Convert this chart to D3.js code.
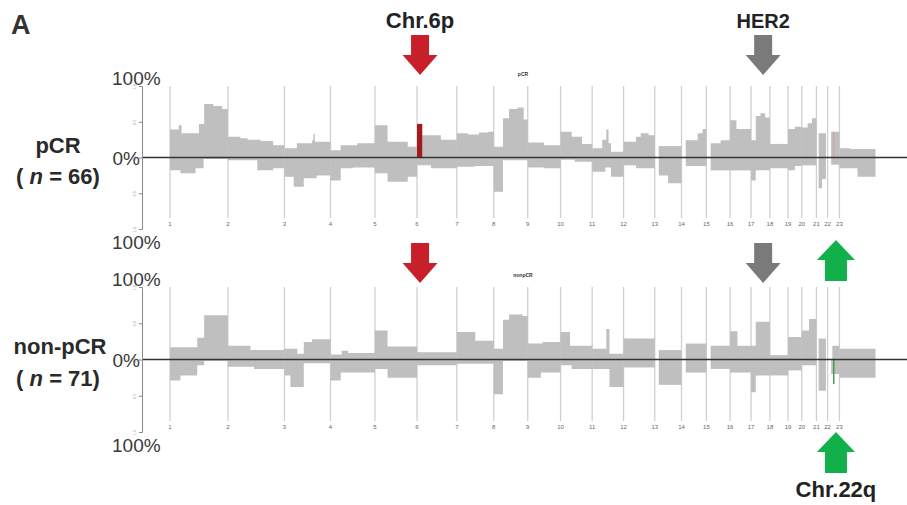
<!DOCTYPE html>
<html lang="en">
<head>
<meta charset="UTF-8">
<title></title>
<style>
  body { margin: 0; background: #fff; }
  text { font-family: Arial, "Liberation Sans", sans-serif; }
</style>
</head>
<body>
<script src="https://cdn.jsdelivr.net/npm/d3@7/dist/d3.min.js"></script>
<script>
// chromosome labels and lengths (Mb)
var chromosomes = ["1","2","3","4","5","6","7","8","9","10","11","12","13","14","15","16","17","18","19","20","21","22","23"];
var chromLengths = [249,243,198,191,181,171,159,146,141,136,135,134,115,107,102,90,81,78,59,63,48,51,155];

// per chromosome: [fraction along chromosome, % of samples]
var pcrGain = [
  [[0,39],[0.15,45],[0.2,34],[0.5,47],[0.59,75],[0.75,72],[0.9,68]],
  [[0,29],[0.22,27],[0.35,25],[0.58,23],[0.8,17]],
  [[0,13],[0.27,20],[0.6,24],[0.63,33],[0.66,22]],
  [[0,10],[0.23,17],[0.6,20]],
  [[0,45],[0.3,22],[0.78,15]],
  [[0,47],[0.13,31],[0.6,25]],
  [[0,34],[0.3,32],[0.6,35],[0.85,36]],
  [[0,15],[0.27,55],[0.45,68],[0.7,70],[0.88,53]],
  [[0,21],[0.5,17]],
  [[0,36],[0.35,29],[0.68,19]],
  [[0,13],[0.32,25],[0.45,39],[0.52,20],[0.6,8]],
  [[0,22],[0.4,29],[0.55,34],[0.8,31]],
  [[0.15,16]],
  [[0.17,24],[0.65,34],[0.85,40]],
  [[0.18,20],[0.6,24]],
  [[0,52],[0.3,40]],
  [[0,24],[0.25,58],[0.5,62],[0.75,56]],
  [[0,19]],
  [[0,40],[0.5,43]],
  [[0,42],[0.4,48],[0.7,55]],
  [[0.2,34],[0.85,0]],
  [[0.3,36]],
  [[0,13],[0.3,12]]
];
var pcrLoss = [
  [[0,18],[0.18,22],[0.44,15],[0.58,2]],
  [[0,4],[0.52,18],[0.8,15]],
  [[0,27],[0.2,41],[0.42,29],[0.7,25]],
  [[0,32],[0.23,15],[0.5,14]],
  [[0,22],[0.3,34],[0.78,27]],
  [[0,11],[0.35,15]],
  [[0,13],[0.5,12]],
  [[0,48],[0.27,4]],
  [[0,14],[0.5,15]],
  [[0,3],[0.45,6]],
  [[0,20],[0.42,14],[0.6,27]],
  [[0,11],[0.4,15]],
  [[0.15,25],[0.5,36]],
  [[0.17,12]],
  [[0.18,18]],
  [[0,18]],
  [[0,32],[0.25,18]],
  [[0,15]],
  [[0,18],[0.5,12]],
  [[0,11]],
  [[0.2,43],[0.5,30],[0.85,0]],
  [[0.3,10]],
  [[0,15],[0.5,27]]
];
var nonpcrGain = [
  [[0,17],[0.47,30],[0.59,61]],
  [[0,19],[0.4,13]],
  [[0,15],[0.28,8],[0.42,24],[0.6,28]],
  [[0,7],[0.25,12],[0.4,9]],
  [[0,40],[0.3,18]],
  [[0,10]],
  [[0,38],[0.5,26]],
  [[0,15],[0.27,55],[0.45,62],[0.85,60]],
  [[0,22],[0.45,24]],
  [[0,38],[0.3,19]],
  [[0,15],[0.45,42],[0.55,8]],
  [[0,29]],
  [[0.15,13]],
  [[0.17,22]],
  [[0.18,19]],
  [[0,39],[0.35,19]],
  [[0,19],[0.25,52]],
  [[0,6]],
  [[0,31]],
  [[0,40],[0.5,56]],
  [[0.2,29],[0.85,0]],
  [[0.4,19]],
  [[0,15]]
];
var nonpcrLoss = [
  [[0,29],[0.18,22],[0.47,8],[0.59,2]],
  [[0,10],[0.46,13]],
  [[0,22],[0.13,38],[0.42,5]],
  [[0,29],[0.23,18]],
  [[0,13],[0.3,25]],
  [[0,8]],
  [[0,6]],
  [[0,48],[0.27,2]],
  [[0,25],[0.4,18]],
  [[0,8],[0.35,13]],
  [[0,13],[0.55,38]],
  [[0,11]],
  [[0.15,35]],
  [[0.17,18]],
  [[0.18,13]],
  [[0,18]],
  [[0,45],[0.25,22]],
  [[0,22]],
  [[0,15]],
  [[0,8]],
  [[0.2,43],[0.85,0]],
  [[0.3,20]],
  [[0,25]]
];

var tickValues = [100, 50, 0, -50, -100];
var tickLabels = ["1.0", "0.5", "0.0", "0.5", "1.0"];

// coloured segments: panel, chromosome index, fraction range, value (negative = loss)
var highlights = [
  {panel: 0, chr: 5, from: 0, to: 0.13, value: 47, color: "#a3191c"},
  {panel: 0, chr: 21, from: 0.46, to: 0.56, value: 36, color: "#d8a3a3"},
  {panel: 1, chr: 21, from: 0.46, to: 0.58, value: -34, color: "#3d9a4c"}
];

// annotation arrows: chromosome index, Mb position
var arrows = [
  {chr: 5, pos: 13, color: "#c8202a", dir: "down", panel: 0, label: "Chr.6p"},
  {chr: 16, pos: 52, color: "#7a7a7a", dir: "down", panel: 0, label: "HER2"},
  {chr: 5, pos: 13, color: "#c8202a", dir: "down", panel: 1},
  {chr: 16, pos: 52, color: "#7a7a7a", dir: "down", panel: 1},
  {chr: 21, pos: 36, color: "#12b04a", dir: "up", panel: 1},
  {chr: 21, pos: 36, color: "#12b04a", dir: "up", panel: 2, label: "Chr.22q"}
];

var width = 907, height = 505;
var svg = d3.select("body").append("svg")
    .attr("width", width)
    .attr("height", height);

var starts = [0];
chromLengths.forEach(function(l, i) { starts.push(starts[i] + l); });
var total = starts[starts.length - 1];

var x = d3.scaleLinear().domain([0, total]).range([170, 875.5]);

var panels = [
  {name: "pCR", gain: pcrGain, loss: pcrLoss, top: 86, bottom: 229, label: "pCR", n: "66"},
  {name: "nonpCR", gain: nonpcrGain, loss: nonpcrLoss, top: 287, bottom: 432, label: "non-pCR", n: "71"}
];

function segPoints(chrIdx, segs, sign) {
  var s = starts[chrIdx], len = chromLengths[chrIdx];
  var pts = segs.map(function(d) { return {g: s + d[0] * len, v: sign * d[1]}; });
  pts.push({g: s + len, v: pts[pts.length - 1].v});
  return pts;
}

panels.forEach(function(p, pi) {
  var y = d3.scaleLinear().domain([-100, 100]).range([p.bottom, p.top]);
  var g = svg.append("g");

  // chromosome separators
  g.selectAll("line.chr").data(chromosomes).enter().append("line")
      .attr("x1", function(d, i) { return x(starts[i]); })
      .attr("x2", function(d, i) { return x(starts[i]); })
      .attr("y1", p.top)
      .attr("y2", p.bottom - 11)
      .attr("stroke", "#cfcfcf")
      .attr("stroke-width", 1.3);

  g.selectAll("text.chr").data(chromosomes).enter().append("text")
      .attr("x", function(d, i) { return x(starts[i]); })
      .attr("y", p.bottom - 3)
      .attr("text-anchor", "middle")
      .attr("font-size", 6)
      .attr("fill", "#666")
      .text(function(d) { return d; });

  var area = d3.area()
      .x(function(d) { return x(d.g); })
      .y0(y(0))
      .y1(function(d) { return y(d.v); })
      .curve(d3.curveStepAfter);

  chromosomes.forEach(function(c, ci) {
    g.append("path").attr("d", area(segPoints(ci, p.gain[ci], 1))).attr("fill", "#bfbfbf");
    g.append("path").attr("d", area(segPoints(ci, p.loss[ci], -1))).attr("fill", "#bfbfbf");
  });

  highlights.filter(function(h) { return h.panel === pi; }).forEach(function(h) {
    var s = starts[h.chr], len = chromLengths[h.chr];
    var x0 = x(s + h.from * len), x1 = x(s + h.to * len);
    g.append("rect")
        .attr("x", x0)
        .attr("width", x1 - x0)
        .attr("y", Math.min(y(0), y(h.value)))
        .attr("height", Math.abs(y(h.value) - y(0)))
        .attr("fill", h.color);
  });

  // zero line
  g.append("line")
      .attr("x1", 142).attr("x2", width)
      .attr("y1", y(0)).attr("y2", y(0))
      .attr("stroke", "#333").attr("stroke-width", 1.6);

  // left axis
  var axis = g.append("g")
      .attr("transform", "translate(142,0)")
      .call(d3.axisLeft(y).tickValues(tickValues).tickSize(3)
        .tickFormat(function(d, i) { return tickLabels[i]; }));
  axis.select(".domain").attr("stroke", "#888");
  axis.selectAll(".tick line").attr("stroke", "#888");
  axis.selectAll(".tick text")
      .attr("font-size", 4).attr("fill", "#999")
      .attr("text-anchor", "middle")
      .attr("x", 0).attr("y", 0).attr("dy", "0.35em")
      .attr("transform", "translate(-7,0) rotate(-90)");

  // tiny panel title
  g.append("text")
      .attr("x", 523).attr("y", p.top - 10)
      .attr("text-anchor", "middle")
      .attr("font-size", 5).attr("font-weight", "bold").attr("fill", "#333")
      .text(p.name);

  // percent labels
  var pct = g.append("g").attr("font-size", 19).attr("fill", "#3a3a3a");
  pct.append("text").attr("x", 112).attr("y", p.top - 1).text("100%");
  pct.append("text").attr("x", 140).attr("y", y(0) + 7).attr("text-anchor", "end").text("0%");
  pct.append("text").attr("x", 112).attr("y", p.bottom + 20).text("100%");

  // group labels
  var lab = g.append("g").attr("font-size", 22).attr("font-weight", "bold")
      .attr("fill", "#2a2a2a").attr("text-anchor", "middle");
  lab.append("text").attr("x", pi === 0 ? 58 : 60).attr("y", y(0) - (pi === 0 ? 5 : 6)).text(p.label);
  var nt = lab.append("text").attr("x", 58).attr("y", y(0) + 26);
  nt.append("tspan").text("( ");
  nt.append("tspan").attr("font-style", "italic").text("n");
  nt.append("tspan").text(" = " + p.n + ")");
});

// arrows
function arrowPath(cx, tip, dir, sw, hw, hh, sh) {
  var s = dir === "down" ? -1 : 1;
  var base = tip + s * hh, end = base + s * sh;
  return "M" + cx + "," + tip +
    "L" + (cx + hw / 2) + "," + base +
    "L" + (cx + sw / 2) + "," + base +
    "L" + (cx + sw / 2) + "," + end +
    "L" + (cx - sw / 2) + "," + end +
    "L" + (cx - sw / 2) + "," + base +
    "L" + (cx - hw / 2) + "," + base + "Z";
}
arrows.forEach(function(a) {
  var cx = x(starts[a.chr] + a.pos);
  var tip;
  if (a.dir === "down") tip = a.panel === 0 ? 75 : 283;
  else tip = a.panel === 1 ? 240 : 432;
  var green = a.dir === "up";
  svg.append("path")
      .attr("d", arrowPath(cx, tip, a.dir, green ? 22 : 18, green ? 38 : 35, 20, green ? 21 : 20))
      .attr("fill", a.color);
  if (a.label) {
    svg.append("text")
        .attr("x", cx)
        .attr("y", a.dir === "down" ? 28 : 497)
        .attr("text-anchor", "middle")
        .attr("font-size", a.label === "HER2" ? 20 : 22)
        .attr("font-weight", "bold")
        .attr("fill", "#222")
        .text(a.label);
  }
});

svg.append("text")
    .attr("x", 11).attr("y", 34)
    .attr("font-size", 27).attr("font-weight", "bold").attr("fill", "#333")
    .text("A");
</script>
</body>
</html>
